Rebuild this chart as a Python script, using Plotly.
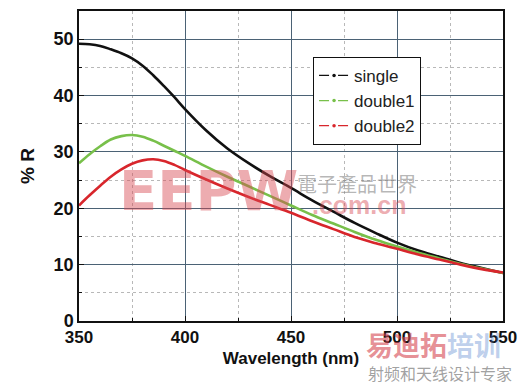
import plotly.graph_objects as go

wavelength = [350, 355, 360, 365, 370, 375, 380, 385, 390, 395, 400, 410, 420, 430, 440, 450,
              460, 470, 480, 490, 500, 510, 520, 530, 540, 550]
single = [49.2, 49.1, 48.8, 48.2, 47.5, 46.6, 45.3, 43.6, 41.7, 39.7, 37.6, 33.8, 30.6, 28.0, 25.7, 23.6,
          21.4, 19.4, 17.4, 15.6, 13.9, 12.5, 11.4, 10.3, 9.4, 8.5]
double1 = [28.0, 29.6, 31.0, 32.2, 32.8, 33.0, 32.7, 32.0, 31.1, 30.2, 29.3, 27.4, 25.6, 23.9, 22.2, 20.5,
           18.8, 17.3, 15.8, 14.4, 13.2, 12.1, 11.1, 10.1, 9.3, 8.5]
double2 = [20.5, 22.3, 24.0, 25.6, 26.9, 27.9, 28.5, 28.7, 28.4, 27.7, 26.8, 25.1, 23.5, 22.0, 20.6, 19.2,
           17.7, 16.3, 14.9, 13.8, 12.8, 11.8, 10.9, 10.0, 9.2, 8.6]

names = ["single", "double1", "double2"]
colors = ["#111111", "#78c04a", "#d8262c"]
series = [single, double1, double2]

fig = go.Figure()
for name, col, ys in zip(names, colors, series):
    fig.add_trace(go.Scatter(x=wavelength, y=ys, mode="lines", line=dict(color=col, width=2.6, shape="spline"),
                             showlegend=False, hoverinfo="skip"))
for name, col in zip(names, colors):
    fig.add_trace(go.Scatter(x=[None], y=[None], mode="lines+markers", name=name,
                             line=dict(color=col, width=1.2, dash="10px,9px"),
                             marker=dict(color=col, size=3.5)))

font_ax = "Liberation Sans, Arial, sans-serif"
fig.update_layout(
    width=531, height=386,
    margin=dict(l=79, r=28, t=11, b=65, autoexpand=False),
    paper_bgcolor="white", plot_bgcolor="white",
    font=dict(family=font_ax, color="#111"),
    showlegend=True,
    legend=dict(x=0.552, y=0.852, xanchor="left", yanchor="top",
                bordercolor="#111", borderwidth=1, bgcolor="white",
                font=dict(size=17, color="#222"), tracegroupgap=0, itemwidth=30),
    xaxis=dict(range=[350, 550], tickvals=[350, 400, 450, 500, 550], automargin=False,
               tickfont=dict(size=17, family=font_ax, weight="bold"),
               showline=True, linecolor="#111", linewidth=1.5, mirror=True,
               ticks="inside", ticklen=5, tickcolor="#111",
               showgrid=True, gridcolor="#4b6275", gridwidth=1, zeroline=False,
               minor=dict(dtick=25, tick0=350, showgrid=True, gridcolor="#b8b8b8", griddash="dot",
                          ticks="inside", ticklen=3, tickcolor="#111"),
               title=dict(text="Wavelength (nm)", font=dict(size=17, family=font_ax, weight="bold"), standoff=6)),
    yaxis=dict(range=[0, 55], tickvals=[0, 10, 20, 30, 40, 50], automargin=False,
               tickfont=dict(size=18, family=font_ax, weight="bold"),
               showline=True, linecolor="#111", linewidth=1.5, mirror=True,
               ticks="inside", ticklen=5, tickcolor="#111",
               showgrid=True, gridcolor="#4b6275", gridwidth=1, zeroline=False,
               minor=dict(dtick=5, tick0=0, showgrid=True, gridcolor="#b8b8b8", griddash="dot",
                          ticks="inside", ticklen=3, tickcolor="#111"),
               title=dict(text="% R", font=dict(size=19, family=font_ax, weight="bold"), standoff=14)),
)

# watermarks
fig.add_annotation(text="EEPW", xref="paper", yref="paper", x=0.09, y=0.42, xanchor="left", yanchor="middle",
                   showarrow=False, font=dict(size=56, family="DejaVu Sans, sans-serif", weight="bold",
                                              color="rgba(214,70,80,0.45)"))
fig.add_annotation(text="電子產品世界", xref="paper", yref="paper", x=0.51, y=0.445, xanchor="left", yanchor="middle",
                   showarrow=False, font=dict(size=20, family="Noto Sans CJK TC", color="rgba(120,120,120,0.55)"))
fig.add_annotation(text=".com.cn", xref="paper", yref="paper", x=0.545, y=0.374, xanchor="left", yanchor="middle",
                   showarrow=False, font=dict(size=25, family=font_ax, weight="bold", color="rgba(214,70,80,0.45)"))
fig.add_annotation(text="易迪拓<span style='color:rgba(70,120,200,0.6)'>培训</span>", xref="paper", yref="paper",
                   x=0.675, y=-0.01, xanchor="left", yanchor="top", showarrow=False, borderpad=0,
                   font=dict(size=27, family="Noto Sans CJK SC", weight="bold", color="rgba(214,70,80,0.6)"))
fig.add_annotation(text="射频和天线设计专家", xref="paper", yref="paper", x=0.68, y=-0.125, xanchor="left", yanchor="top",
                   showarrow=False, borderpad=0,
                   font=dict(size=16, family="Noto Sans CJK SC", color="rgba(120,120,120,0.7)"))

fig.write_html("out.html", config={"displayModeBar": False},
               post_script="document.body.style.margin='0';document.body.style.overflow='hidden';")
